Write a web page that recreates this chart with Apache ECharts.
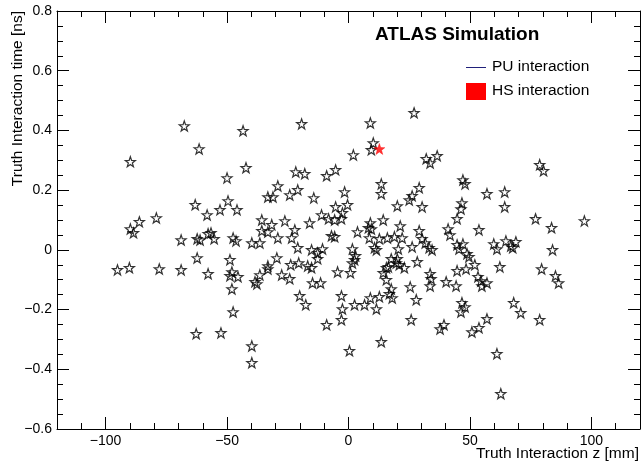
<!DOCTYPE html>
<html>
<head>
<meta charset="utf-8">
<script src="https://cdn.jsdelivr.net/npm/echarts@6/dist/echarts.min.js"></script>
<style>html,body{margin:0;padding:0;background:#fff}#c{width:642px;height:465px}</style>
</head>
<body>
<div id="c"></div>
<script>
// PU interactions: z [mm]
const puZ = [27.0,-67.6,-43.4,-19.3,9.0,10.2,9.4,2.0,-61.5,-89.8,32.0,33.6,36.5,78.7,80.3,-42.2,-50.0,-21.7,-18.0,-9.0,-5.3,-29.1,-20.9,-24.2,-14.3,-33.2,-31.1,-1.6,13.5,13.5,47.1,48.0,57.0,64.3,29.1,26.2,25.0,20.1,30.3,46.7,46.3,64.3,-0.4,-5.3,-49.6,-45.9,-52.9,-63.1,-79.1,-86.1,-89.8,-88.5,-58.2,-68.9,-62.3,-61.1,-57.8,-56.6,-55.3,-62.3,-95.1,-90.2,-77.9,-68.9,-57.8,
-35.7,-31.6,-26.2,-16.0,-11.1,-8.2,-5.7,-2.9,-2.5,-35.7,-33.2,-22.1,-29.1,-23.4,-47.5,-46.3,-7.0,-5.7,-39.8,-36.5,-20.9,-15.2,-12.7,-10.7,-12.7,-48.8,-29.5,-23.8,-20.5,-16.8,-15.2,-33.2,-33.2,-48.0,-48.8,-45.5,-36.5,-38.5,-37.7,-27.5,-24.2,-14.8,-11.5,-4.5,0.8,-48.0,-20.1,-2.9,
44.7,14.3,9.0,8.2,9.4,3.7,21.3,29.1,41.0,41.8,53.7,8.6,12.7,16.0,18.9,22.1,30.3,31.6,33.2,34.4,26.2,20.5,10.7,11.5,1.6,2.9,2.5,1.6,44.7,47.1,45.5,48.8,49.6,17.6,20.1,19.7,20.9,23.0,16.4,15.6,28.3,14.3,15.6,17.6,16.8,18.0,9.0,12.7,25.4,33.6,34.0,33.6,40.2,44.3,44.7,48.4,52.0,53.3,27.9,
77.0,83.6,97.1,59.8,61.1,64.8,66.8,68.9,67.6,84.0,62.3,79.5,85.2,86.5,54.5,57.0,54.9,
-62.7,-52.5,-47.5,-17.6,-39.8,-39.8,-9.0,-2.5,-2.9,2.5,0.4,6.6,11.5,25.8,13.5,46.7,48.0,46.3,39.3,37.7,50.8,53.7,68.0,70.9,78.7,57.0,61.1,62.7];
// PU interactions: time [ns]
const puT = [0.459,0.415,0.399,0.422,0.425,0.358,0.335,0.318,0.338,0.295,0.305,0.291,0.315,0.285,0.265,0.275,0.241,0.261,0.255,0.248,0.268,0.214,0.201,0.184,0.174,0.177,0.177,0.194,0.221,0.188,0.234,0.221,0.188,0.194,0.208,0.181,0.167,0.147,0.144,0.157,0.137,0.144,0.151,0.144,0.164,0.134,0.134,0.151,0.107,0.094,0.070,0.057,0.117,0.033,0.037,0.033,0.054,0.057,0.037,-0.027,-0.067,-0.060,-0.064,-0.067,-0.080,
0.100,0.084,0.097,0.090,0.117,0.104,0.100,0.104,0.124,0.064,0.060,0.067,0.040,0.040,0.040,0.030,0.047,0.044,0.023,0.023,0.007,0.000,-0.010,0.003,-0.030,-0.033,-0.027,-0.050,-0.044,-0.054,-0.060,-0.054,-0.064,-0.074,-0.087,-0.090,-0.084,-0.107,-0.114,-0.084,-0.097,-0.111,-0.111,-0.074,-0.077,-0.131,-0.154,-0.154,
0.104,0.100,0.090,0.074,0.070,0.060,0.080,0.064,0.070,0.050,0.067,0.040,0.037,0.040,0.044,0.040,0.037,0.023,0.007,0.000,0.010,0.003,0.007,0.000,0.003,-0.020,-0.033,-0.044,0.017,0.020,0.003,-0.013,-0.023,-0.030,-0.030,-0.044,-0.050,-0.060,-0.057,-0.060,-0.040,-0.077,-0.100,-0.131,-0.147,-0.161,-0.161,-0.157,-0.124,-0.080,-0.097,-0.121,-0.107,-0.121,-0.070,-0.064,-0.050,-0.090,-0.167,
0.104,0.074,0.097,0.020,0.003,0.030,0.013,0.027,0.007,0.000,-0.057,-0.064,-0.087,-0.111,-0.104,-0.111,-0.121,
-0.281,-0.278,-0.208,-0.184,-0.322,-0.378,-0.251,-0.198,-0.234,-0.184,-0.338,-0.184,-0.198,-0.234,-0.308,-0.177,-0.191,-0.208,-0.251,-0.265,-0.275,-0.261,-0.177,-0.211,-0.234,-0.231,-0.348,-0.482];
// HS interaction
const hsZ = [12.7];
const hsT = [0.338];

// tick labels
const xTicks = [-100, -50, 0, 50, 100];
const yTicks = [-0.6, -0.4, -0.2, 0, 0.2, 0.4, 0.6, 0.8];

const STAR = 'path://M50,0 L61.8,33.8 L97.6,34.5 L69,56.2 L79.4,90.5 L50,70 L20.6,90.5 L31,56.2 L2.4,34.5 L38.2,33.8 Z';
const FONT = '"Liberation Sans", Arial, Helvetica, sans-serif';

const fmtNum = v => {
  const s = (Math.abs(v) < 1e-9) ? '0' : String(Math.round(v * 100) / 100);
  return s.replace('-', '\u2212');
};

const chart = echarts.init(document.getElementById('c'), null, {renderer: 'canvas'});

const XMIN = -120, XMAX = 120, YMIN = -0.6, YMAX = 0.8;
const lineStyle = {color: '#000', width: 1};

function majorX(pos, labels) {
  return {type: 'value', min: XMIN, max: XMAX, position: pos,
    axisLine: {show: true, onZero: false, lineStyle},
    axisTick: {show: true, inside: true, length: 12, customValues: xTicks, lineStyle},
    axisLabel: {show: labels, customValues: xTicks, color: '#000', fontSize: 14, fontFamily: FONT, margin: 5,
      formatter: v => fmtNum(v)},
    splitLine: {show: false}};
}
function minorX(pos) {
  return {type: 'value', min: XMIN, max: XMAX, interval: 10, position: pos,
    axisLine: {show: false, onZero: false},
    axisTick: {show: true, inside: true, length: 6, lineStyle},
    axisLabel: {show: false}, splitLine: {show: false}};
}
function majorY(pos, labels) {
  return {type: 'value', min: YMIN, max: YMAX, position: pos,
    axisLine: {show: true, onZero: false, lineStyle},
    axisTick: {show: true, inside: true, length: 12, customValues: yTicks, lineStyle},
    axisLabel: {show: labels, customValues: yTicks, color: '#000', fontSize: 14, fontFamily: FONT, margin: 5,
      formatter: v => fmtNum(v)},
    splitLine: {show: false}};
}
function minorY(pos) {
  return {type: 'value', min: YMIN, max: YMAX, interval: 0.05, position: pos,
    axisLine: {show: false, onZero: false},
    axisTick: {show: true, inside: true, length: 6, lineStyle},
    axisLabel: {show: false}, splitLine: {show: false}};
}

chart.setOption({
  animation: false,
  backgroundColor: '#fff',
  grid: {left: 57, right: 2, top: 11, bottom: 36, containLabel: false},
  xAxis: [majorX('bottom', true), majorX('top', false), minorX('bottom'), minorX('top')],
  yAxis: [majorY('left', true), majorY('right', false), minorY('left'), minorY('right')],
  series: [
    {name: 'PU interaction', type: 'scatter', xAxisIndex: 0, yAxisIndex: 0,
      data: puZ.map((z, i) => [z, puT[i]]),
      symbol: STAR, symbolSize: 10,
      itemStyle: {color: 'rgba(255,255,255,0)', borderColor: '#000', borderWidth: 1.2}},
    {name: 'HS interaction', type: 'scatter', xAxisIndex: 0, yAxisIndex: 0,
      data: hsZ.map((z, i) => [z, hsT[i]]),
      symbol: STAR, symbolSize: 11, z: 3,
      itemStyle: {color: '#ff0000', borderColor: '#ff0000', borderWidth: 0.5}}
  ],
  graphic: [
    {type: 'text', left: 375, top: 25, style: {text: 'ATLAS Simulation', font: 'bold 19px ' + FONT, fill: '#000'}},
    {type: 'line', shape: {x1: 466, y1: 67.5, x2: 486, y2: 67.5}, style: {stroke: '#20207a', lineWidth: 1}},
    {type: 'text', left: 492, top: 59, style: {text: 'PU interaction', font: '15.5px ' + FONT, fill: '#000'}},
    {type: 'rect', shape: {x: 466, y: 83, width: 20, height: 17}, style: {fill: '#ff0000'}},
    {type: 'text', left: 492, top: 83, style: {text: 'HS interaction', font: '15.5px ' + FONT, fill: '#000'}},
    {type: 'text', right: 3, top: 446, style: {text: 'Truth Interaction z [mm]', font: '15.5px ' + FONT, fill: '#000'}},
    {type: 'text', left: 10, top: 11, rotation: Math.PI / 2, originX: 0, originY: 0,
      style: {text: 'Truth Interaction time [ns]', font: '15.5px ' + FONT, fill: '#000', align: 'right', verticalAlign: 'top'}}
  ]
});
</script>
</body>
</html>
